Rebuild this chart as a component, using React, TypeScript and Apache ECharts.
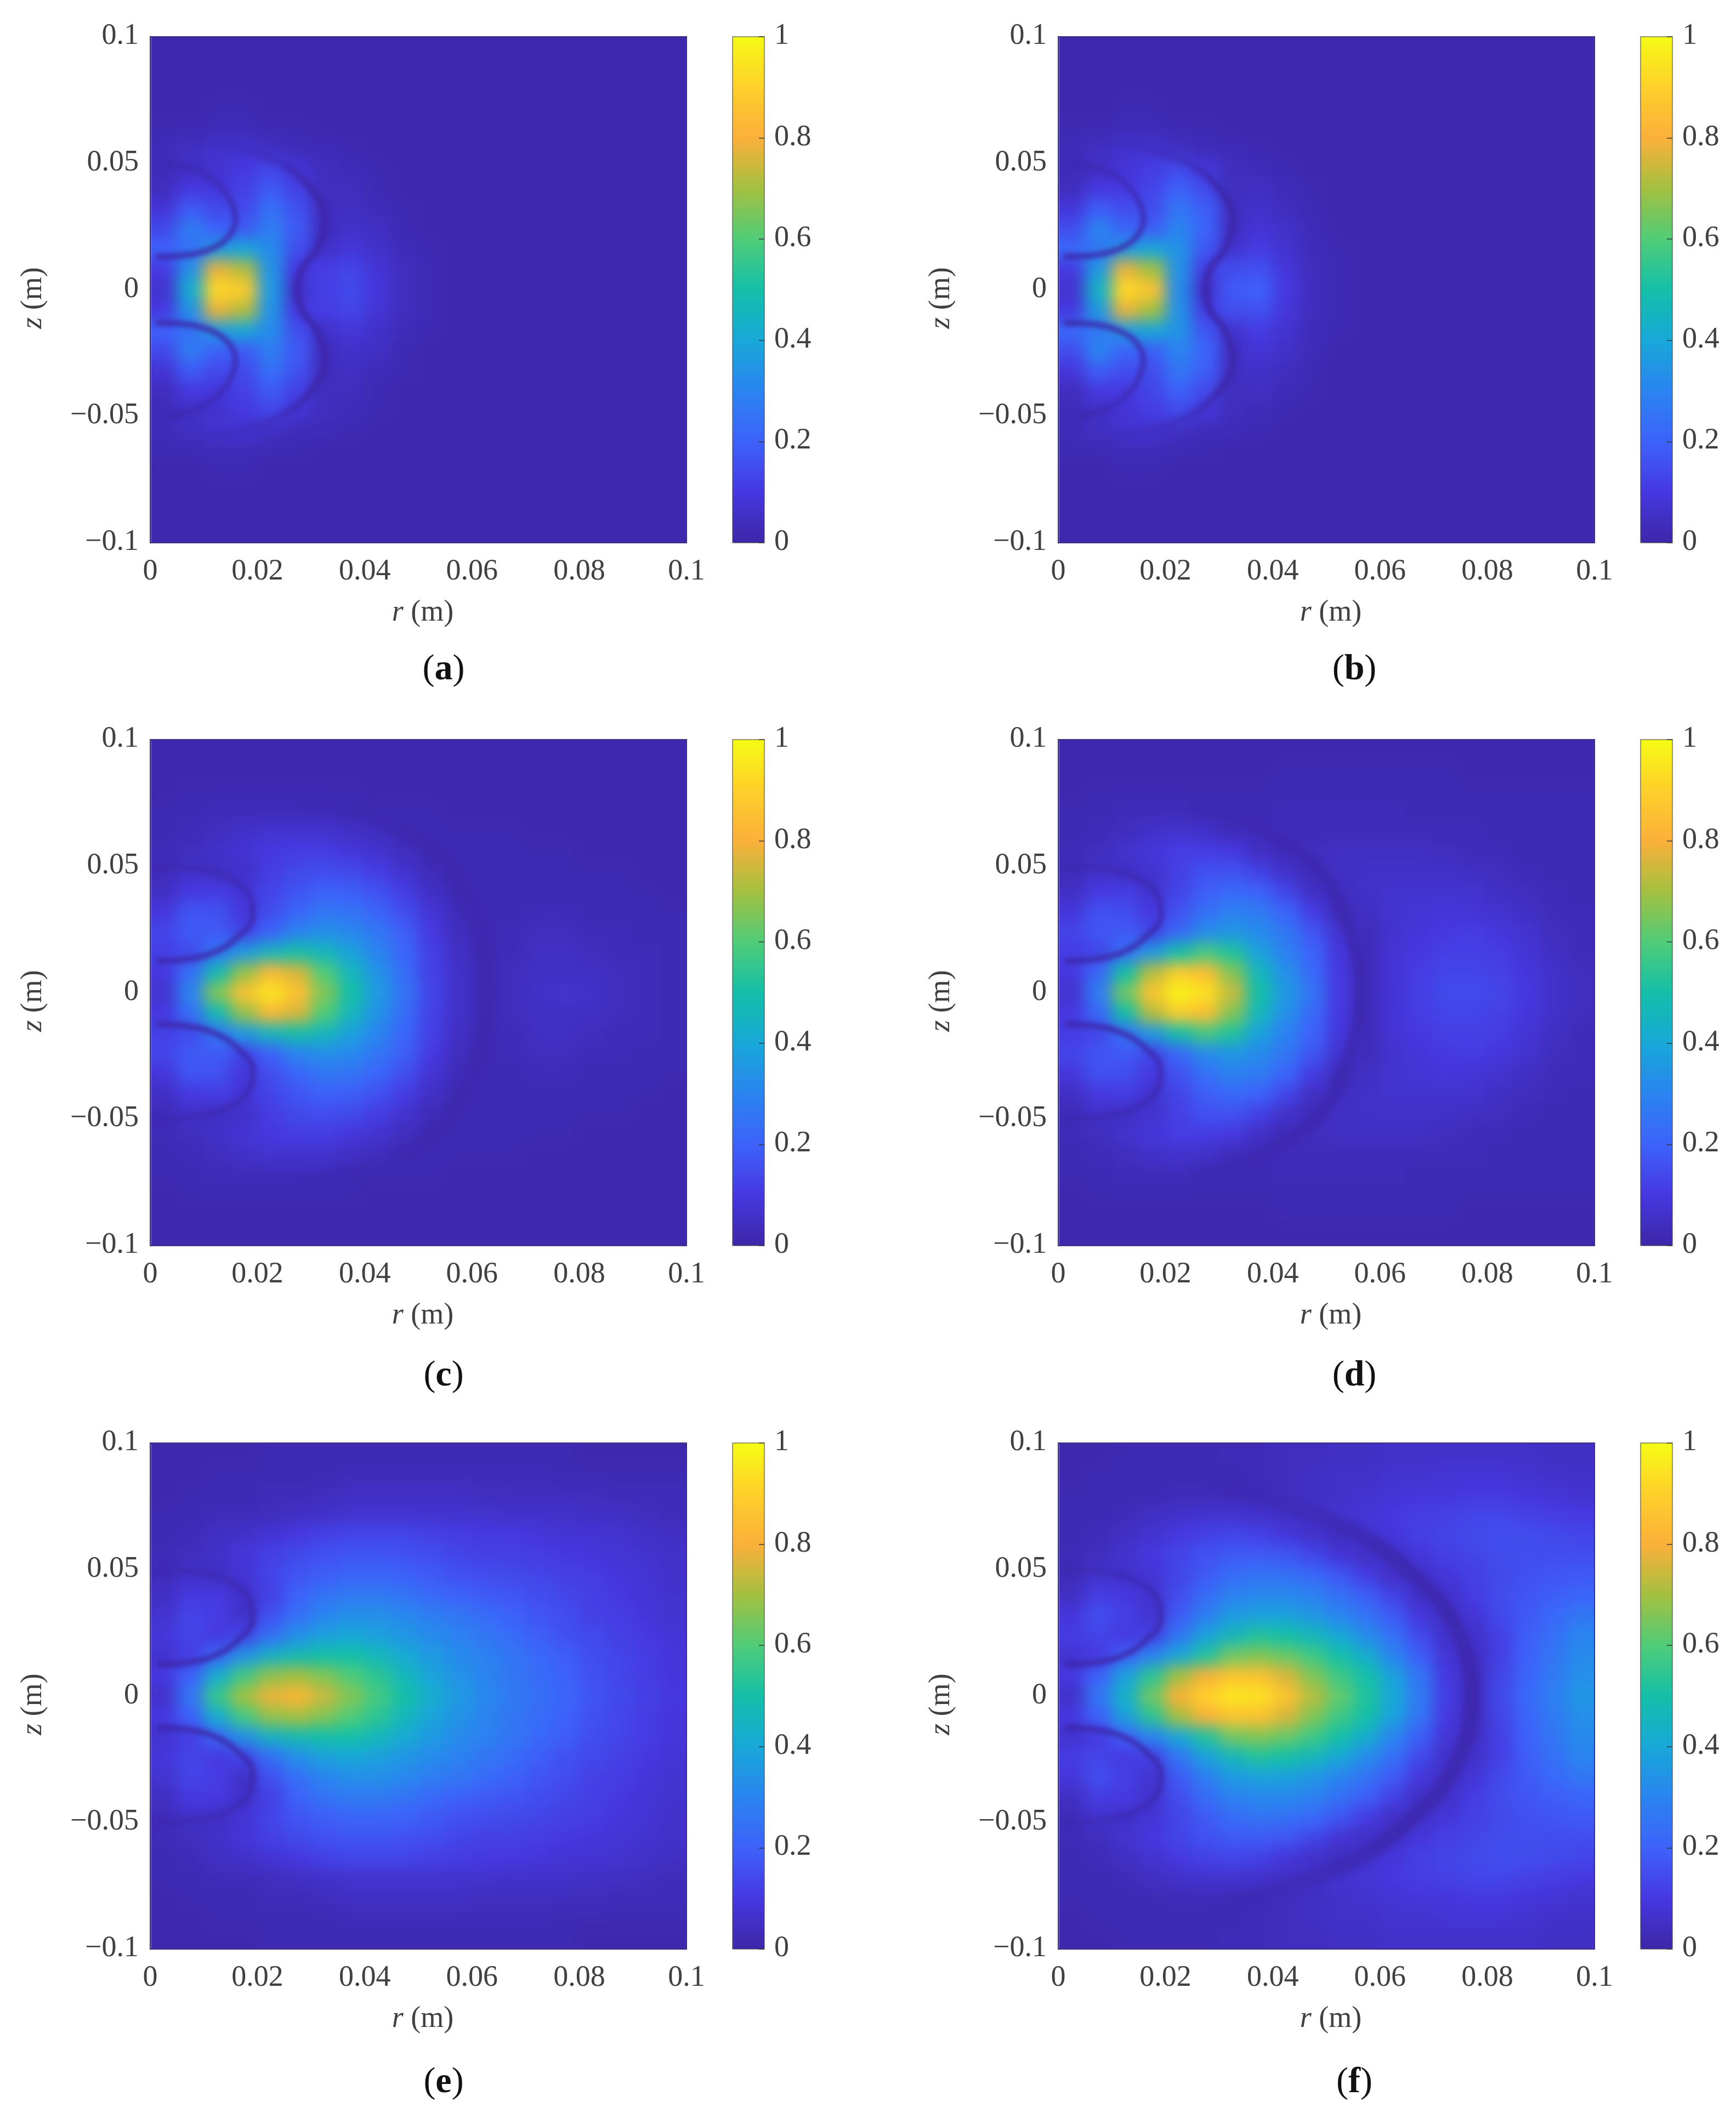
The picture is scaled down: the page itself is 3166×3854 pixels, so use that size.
import React, { useEffect, useRef } from 'react';
import * as echarts from 'echarts';

// columns are r = 2.5, 7.5 ... 97.5 mm, rows are z = 0, 8, 16 ... 96 mm, values in percent (mirrored for z < 0)
const fieldA = [
  [7, 42, 92, 88, 36, 6, 12, 14, 9, 4, 2, 1, 1, 1, 1, 1, 1, 1, 1, 1],
  [10, 34, 78, 72, 34, 10, 11, 13, 8, 4, 2, 1, 1, 1, 1, 1, 1, 1, 1, 1],
  [20, 24, 36, 40, 32, 15, 6, 9, 6, 3, 2, 1, 1, 1, 1, 1, 1, 1, 1, 1],
  [14, 28, 20, 18, 28, 18, 4, 6, 5, 2, 1, 1, 1, 1, 1, 1, 1, 1, 1, 1],
  [8, 18, 14, 14, 24, 16, 4, 5, 3, 2, 1, 1, 1, 1, 1, 1, 1, 1, 1, 1],
  [4, 10, 9, 12, 18, 12, 4, 4, 2, 1, 1, 1, 1, 1, 1, 1, 1, 1, 1, 1],
  [3, 5, 7, 10, 13, 8, 4, 3, 2, 1, 1, 1, 1, 1, 1, 1, 1, 1, 1, 1],
  [3, 5, 7, 7, 5, 3, 3, 2, 1, 1, 1, 1, 1, 1, 1, 1, 1, 1, 1, 1],
  [2, 2, 3, 3, 2, 2, 1, 1, 1, 1, 1, 1, 1, 1, 1, 1, 1, 1, 1, 1],
  [1, 1, 2, 2, 1, 1, 1, 1, 1, 1, 1, 1, 1, 1, 1, 1, 1, 1, 1, 1],
  [1, 1, 1, 1, 1, 1, 1, 1, 1, 1, 1, 1, 1, 1, 1, 1, 1, 1, 1, 1],
  [1, 1, 1, 1, 1, 1, 1, 1, 1, 1, 1, 1, 1, 1, 1, 1, 1, 1, 1, 1],
  [1, 1, 1, 1, 1, 1, 1, 1, 1, 1, 1, 1, 1, 1, 1, 1, 1, 1, 1, 1],
];
const fieldB = [
  [7, 44, 92, 86, 32, 6, 18, 20, 10, 4, 2, 1, 1, 1, 1, 1, 1, 1, 1, 1],
  [10, 36, 78, 70, 34, 11, 15, 16, 9, 4, 2, 1, 1, 1, 1, 1, 1, 1, 1, 1],
  [22, 26, 36, 40, 34, 17, 7, 11, 7, 3, 2, 1, 1, 1, 1, 1, 1, 1, 1, 1],
  [15, 30, 21, 19, 30, 21, 5, 8, 6, 3, 1, 1, 1, 1, 1, 1, 1, 1, 1, 1],
  [9, 19, 15, 15, 26, 19, 5, 6, 4, 2, 1, 1, 1, 1, 1, 1, 1, 1, 1, 1],
  [4, 10, 10, 13, 20, 14, 4, 5, 3, 2, 1, 1, 1, 1, 1, 1, 1, 1, 1, 1],
  [3, 5, 8, 11, 14, 9, 4, 3, 2, 1, 1, 1, 1, 1, 1, 1, 1, 1, 1, 1],
  [3, 5, 7, 7, 5, 3, 3, 2, 1, 1, 1, 1, 1, 1, 1, 1, 1, 1, 1, 1],
  [2, 2, 3, 3, 2, 2, 1, 1, 1, 1, 1, 1, 1, 1, 1, 1, 1, 1, 1, 1],
  [1, 1, 2, 2, 1, 1, 1, 1, 1, 1, 1, 1, 1, 1, 1, 1, 1, 1, 1, 1],
  [1, 1, 1, 1, 1, 1, 1, 1, 1, 1, 1, 1, 1, 1, 1, 1, 1, 1, 1, 1],
  [1, 1, 1, 1, 1, 1, 1, 1, 1, 1, 1, 1, 1, 1, 1, 1, 1, 1, 1, 1],
  [1, 1, 1, 1, 1, 1, 1, 1, 1, 1, 1, 1, 1, 1, 1, 1, 1, 1, 1, 1],
];
const fieldC = [
  [7, 30, 66, 85, 95, 85, 66, 50, 36, 25, 13, 6, 2, 4, 6, 7, 6, 4, 3, 2],
  [10, 24, 48, 68, 82, 76, 60, 46, 34, 23, 12, 6, 2, 4, 5, 5, 5, 4, 3, 2],
  [12, 14, 26, 36, 46, 50, 46, 38, 30, 21, 12, 5, 2, 3, 5, 5, 4, 3, 3, 2],
  [13, 18, 18, 13, 20, 30, 33, 31, 26, 19, 10, 4, 2, 3, 4, 4, 3, 3, 2, 2],
  [9, 17, 16, 9, 15, 21, 26, 25, 21, 15, 8, 3, 2, 2, 3, 3, 2, 2, 2, 2],
  [5, 10, 11, 8, 13, 17, 20, 19, 16, 11, 5, 2, 2, 2, 2, 2, 2, 2, 2, 1],
  [3, 6, 5, 6, 11, 14, 15, 14, 11, 7, 3, 2, 2, 2, 2, 2, 2, 2, 1, 1],
  [3, 4, 6, 8, 10, 11, 11, 9, 7, 4, 2, 2, 2, 2, 2, 2, 1, 1, 1, 1],
  [2, 3, 4, 6, 7, 7, 7, 5, 4, 2, 2, 2, 2, 2, 1, 1, 1, 1, 1, 1],
  [2, 2, 3, 3, 3, 3, 3, 2, 2, 2, 2, 1, 1, 1, 1, 1, 1, 1, 1, 1],
  [1, 2, 2, 2, 2, 2, 2, 2, 1, 1, 1, 1, 1, 1, 1, 1, 1, 1, 1, 1],
  [1, 1, 1, 1, 1, 1, 1, 1, 1, 1, 1, 1, 1, 1, 1, 1, 1, 1, 1, 1],
  [1, 1, 1, 1, 1, 1, 1, 1, 1, 1, 1, 1, 1, 1, 1, 1, 1, 1, 1, 1],
];
const fieldD = [
  [7, 28, 64, 86, 98, 94, 74, 50, 36, 25, 10, 3, 8, 12, 14, 14, 13, 10, 6, 4],
  [10, 22, 50, 72, 88, 84, 66, 46, 33, 22, 10, 3, 8, 11, 13, 13, 12, 9, 6, 4],
  [11, 13, 24, 36, 50, 58, 52, 38, 29, 20, 9, 3, 8, 10, 12, 12, 11, 8, 5, 3],
  [13, 17, 18, 13, 22, 32, 35, 32, 26, 17, 7, 3, 7, 9, 10, 11, 9, 7, 4, 3],
  [9, 16, 15, 10, 16, 24, 29, 27, 21, 11, 3, 5, 7, 8, 9, 8, 7, 5, 3, 3],
  [5, 10, 11, 7, 13, 19, 22, 20, 13, 5, 4, 6, 7, 7, 7, 7, 5, 4, 3, 2],
  [3, 6, 5, 7, 12, 16, 16, 12, 6, 3, 5, 6, 6, 6, 6, 5, 4, 3, 2, 2],
  [3, 4, 7, 9, 11, 11, 10, 5, 3, 4, 5, 5, 5, 5, 4, 3, 3, 2, 2, 2],
  [2, 3, 4, 6, 7, 6, 3, 3, 3, 3, 3, 3, 3, 3, 3, 3, 2, 2, 2, 2],
  [2, 2, 3, 3, 3, 2, 2, 2, 3, 3, 3, 3, 3, 2, 2, 2, 2, 2, 2, 2],
  [1, 2, 2, 2, 2, 2, 2, 2, 2, 2, 2, 2, 2, 2, 2, 2, 2, 2, 2, 2],
  [1, 1, 1, 1, 1, 1, 1, 1, 2, 2, 2, 2, 2, 2, 2, 1, 1, 1, 1, 1],
  [1, 1, 1, 1, 1, 1, 1, 1, 1, 1, 1, 1, 1, 1, 1, 1, 1, 1, 1, 1],
];
const fieldE = [
  [6, 26, 56, 70, 78, 82, 74, 66, 58, 50, 42, 36, 31, 27, 24, 21, 17, 14, 12, 10],
  [10, 20, 42, 58, 68, 70, 66, 60, 54, 46, 39, 34, 30, 26, 23, 20, 16, 13, 11, 9],
  [7, 11, 22, 34, 44, 48, 50, 50, 46, 41, 36, 32, 29, 26, 22, 19, 15, 13, 11, 9],
  [9, 13, 10, 13, 24, 33, 38, 40, 38, 35, 32, 29, 26, 23, 19, 16, 14, 12, 10, 8],
  [7, 13, 11, 6, 16, 24, 30, 33, 33, 31, 28, 26, 23, 20, 17, 15, 12, 11, 9, 7],
  [5, 10, 10, 6, 12, 20, 25, 27, 27, 25, 22, 20, 18, 17, 15, 13, 12, 10, 8, 7],
  [3, 6, 5, 8, 13, 17, 19, 21, 21, 20, 18, 16, 15, 14, 13, 12, 11, 9, 8, 6],
  [3, 4, 6, 9, 12, 14, 16, 17, 17, 16, 15, 13, 12, 12, 11, 10, 9, 8, 7, 6],
  [2, 3, 5, 6, 8, 10, 12, 13, 13, 13, 12, 11, 10, 10, 9, 8, 8, 7, 6, 5],
  [2, 2, 3, 3, 4, 5, 6, 7, 7, 7, 7, 7, 7, 6, 6, 6, 5, 5, 4, 3],
  [1, 2, 2, 2, 3, 3, 4, 5, 5, 5, 5, 5, 4, 4, 4, 4, 4, 3, 3, 3],
  [1, 1, 2, 2, 2, 2, 2, 3, 3, 3, 3, 3, 3, 3, 3, 2, 2, 2, 2, 2],
  [1, 1, 1, 1, 2, 2, 2, 2, 2, 2, 2, 2, 2, 2, 2, 2, 1, 1, 1, 1],
];
const fieldF = [
  [6, 26, 44, 64, 80, 90, 95, 94, 86, 72, 62, 52, 40, 27, 11, 4, 14, 22, 29, 35],
  [10, 20, 38, 54, 70, 80, 86, 85, 76, 66, 57, 50, 38, 25, 10, 4, 13, 21, 27, 33],
  [7, 10, 20, 30, 40, 52, 64, 66, 63, 57, 50, 42, 30, 19, 8, 5, 12, 20, 26, 32],
  [11, 13, 10, 12, 26, 38, 46, 52, 50, 46, 40, 32, 24, 14, 6, 6, 12, 19, 24, 30],
  [9, 15, 12, 7, 18, 28, 36, 38, 38, 35, 30, 25, 18, 9, 5, 8, 14, 18, 22, 26],
  [5, 11, 10, 7, 15, 23, 29, 31, 31, 29, 24, 19, 12, 5, 6, 11, 15, 17, 19, 21],
  [3, 7, 6, 8, 13, 18, 23, 25, 24, 22, 17, 11, 5, 6, 9, 12, 14, 16, 17, 18],
  [3, 4, 7, 10, 13, 16, 18, 18, 17, 13, 8, 5, 6, 9, 12, 13, 15, 15, 15, 15],
  [2, 3, 5, 7, 10, 12, 13, 12, 9, 6, 4, 7, 9, 12, 13, 14, 15, 15, 14, 13],
  [2, 2, 3, 5, 6, 7, 7, 6, 5, 5, 7, 8, 10, 11, 12, 13, 13, 12, 11, 10],
  [2, 2, 2, 2, 3, 3, 3, 3, 4, 5, 6, 7, 8, 9, 9, 10, 10, 9, 8, 7],
  [1, 2, 2, 2, 2, 2, 2, 3, 4, 5, 6, 6, 7, 7, 8, 8, 8, 7, 6, 6],
  [1, 1, 2, 2, 2, 2, 3, 3, 4, 4, 5, 5, 6, 6, 6, 6, 6, 6, 5, 5],
];

// dark nodal curves, [r, z] in metres, upper half only
const lobeSmall = [[0.001, 0.0131], [0.0054, 0.0134], [0.0098, 0.015], [0.0129, 0.0179], [0.0149, 0.0219], [0.0159, 0.0276], [0.0152, 0.0341], [0.0132, 0.0406], [0.0101, 0.0456], [0.0064, 0.0488], [0.0027, 0.0503]];
const lobeLarge = [[0.0012, 0.0125], [0.0064, 0.0131], [0.0116, 0.0157], [0.0161, 0.0216], [0.0191, 0.0306], [0.0181, 0.0397], [0.0142, 0.0456], [0.0096, 0.0486], [0.0051, 0.0497], [0.001, 0.05]];
const outerAB = [[0.0275, 0], [0.0285, 0.0089], [0.0309, 0.0154], [0.0326, 0.0276], [0.0319, 0.0341], [0.0292, 0.042], [0.0251, 0.0492], [0.0203, 0.0535], [0.0156, 0.0564], [0.0085, 0.0585]];
const outerC = [[0.0627, 0], [0.0617, 0.0216], [0.0584, 0.0397], [0.0539, 0.054], [0.0467, 0.0644], [0.0389, 0.0716], [0.0278, 0.0761]];
const outerD = [[0.0563, 0], [0.055, 0.019], [0.0511, 0.041], [0.0459, 0.054], [0.04, 0.0618], [0.0342, 0.0683], [0.025, 0.0735]];
const outerF = [[0.0771, 0], [0.0758, 0.0182], [0.0719, 0.0351], [0.0667, 0.0468], [0.0595, 0.0597], [0.053, 0.0675], [0.0459, 0.0734], [0.0381, 0.0786], [0.0283, 0.0831]];

const colorStops = ['#3d26a8', '#4638e0', '#3d62fa', '#2a84f0', '#18a8d8', '#14bfa8', '#50cc78', '#a4c040', '#fbb03a', '#ffd02a', '#f5fb15'];

const panels = [
  { label: 'a', col: 0, row: 0, field: fieldA, lobe: lobeSmall, outer: outerAB, outerWidth: 14, outerOpacity: 0.8 },
  { label: 'b', col: 1, row: 0, field: fieldB, lobe: lobeSmall, outer: outerAB, outerWidth: 14, outerOpacity: 0.8 },
  { label: 'c', col: 0, row: 1, field: fieldC, lobe: lobeLarge, outer: outerC, outerWidth: 30, outerOpacity: 0.35 },
  { label: 'd', col: 1, row: 1, field: fieldD, lobe: lobeLarge, outer: outerD, outerWidth: 22, outerOpacity: 0.55 },
  { label: 'e', col: 0, row: 2, field: fieldE, lobe: lobeLarge, outer: [], outerWidth: 0, outerOpacity: 0 },
  { label: 'f', col: 1, row: 2, field: fieldF, lobe: lobeLarge, outer: outerF, outerWidth: 28, outerOpacity: 0.65 },
];

const plotLeft = [274, 1930];
const plotTop = [67, 1349, 2632];
const captionY = [1216, 2504, 3793];
const plotW = 978;
const plotH = 923;
const barOffset = 1062;
const barW = 58;
const fontFamily = 'Liberation Serif';
const textColor = '#404040';
const fontSize = 54;

const EChart = ({ option, style }: { option: any; style: React.CSSProperties }) => {
  const ref = useRef<HTMLDivElement>(null);
  useEffect(() => {
    const chart = echarts.init(ref.current as HTMLDivElement, null, { renderer: 'svg' });
    chart.setOption(option);
    return () => {
      chart.dispose();
    };
  }, [option]);
  return <div ref={ref} style={style} />;
};

const fieldOption = (field: number[][]) => {
  const rows = [...field.slice(1).reverse(), ...field];
  const data: number[][] = [];
  // one clamped cell all round, so the blur has no edge inside the plot
  for (let j = -1; j <= rows.length; j++) {
    for (let i = -1; i <= rows[0].length; i++) {
      const row = rows[Math.min(Math.max(j, 0), rows.length - 1)];
      data.push([i + 1, j + 1, row[Math.min(Math.max(i, 0), row.length - 1)] / 100]);
    }
  }
  return {
    animation: false,
    grid: { left: 0, right: 0, top: 0, bottom: 0 },
    xAxis: { type: 'category', show: false, data: Array.from({ length: rows[0].length + 2 }, (_, i) => i) },
    yAxis: { type: 'category', show: false, data: Array.from({ length: rows.length + 2 }, (_, i) => i) },
    visualMap: { show: false, min: 0, max: 1, dimension: 2, inRange: { color: colorStops } },
    series: [{ type: 'heatmap', data, itemStyle: { borderWidth: 0 }, emphasis: { disabled: true } }],
  };
};

const mirror = (curve: number[][]) => curve.map(([r, z]) => [r, -z]);

const shade = (a: number) => 'rgba(61,38,168,' + a + ')';

// stroke that fades along the height of the curve
const fade = (stops: number[][]) =>
  new echarts.graphic.LinearGradient(0, 0, 0, 1, stops.map(([offset, a]) => ({ offset, color: shade(a) })));

const curveOption = (p: (typeof panels)[number]) => {
  const line = (data: number[][], width: number, color: any) => ({
    type: 'line',
    data,
    smooth: 0.4,
    showSymbol: false,
    silent: true,
    lineStyle: { color, width },
  });
  const o = p.outerOpacity;
  return {
    animation: false,
    grid: { left: 0, right: 0, top: 0, bottom: 0 },
    xAxis: { type: 'value', show: false, min: 0, max: 0.1 },
    yAxis: { type: 'value', show: false, min: -0.1, max: 0.1 },
    series: [
      line(p.lobe, 10, fade([[0, 0.5], [0.5, 0.8], [1, 0.9]])),
      line(mirror(p.lobe), 10, fade([[0, 0.9], [0.5, 0.8], [1, 0.5]])),
      line(
        [...mirror(p.outer).reverse(), ...p.outer.slice(1)],
        p.outerWidth,
        fade([[0, 0.15], [0.15, o], [0.85, o], [1, 0.15]])
      ),
    ],
  };
};

const tickLabel = { color: textColor, fontFamily, fontSize };
// pushes a label up a little from its tick, as in the picture
const liftedLabel = { t: { ...tickLabel, padding: [0, 0, 10, 0] } };

const mainOption = () => {
  const grid: any[] = [];
  const xAxis: any[] = [];
  const yAxis: any[] = [];
  const visualMap: any[] = [];
  const graphic: any[] = [];
  panels.forEach((p, k) => {
    const left = plotLeft[p.col];
    const top = plotTop[p.row];
    grid.push({ left, top, width: plotW, height: plotH, show: true, borderWidth: 2, borderColor: '#3a3280', z: 1 });
    xAxis.push({
      gridIndex: 2 * k,
      type: 'value',
      min: 0,
      max: 0.1,
      interval: 0.02,
      splitLine: { show: false },
      axisTick: { show: false },
      axisLine: { show: false, onZero: false },
      axisLabel: { ...tickLabel, margin: 22, formatter: (v: number) => String(+v.toFixed(2)) },
      name: '{i|r} (m)',
      nameLocation: 'middle',
      nameGap: 97,
      nameTextStyle: {
        ...tickLabel,
        padding: [0, 0, 0, 16],
        rich: { i: { ...tickLabel, fontStyle: 'italic' } },
      },
    });
    yAxis.push({
      gridIndex: 2 * k,
      type: 'value',
      min: -0.1,
      max: 0.1,
      interval: 0.05,
      splitLine: { show: false },
      axisTick: { show: false },
      axisLine: { show: true, onZero: false, lineStyle: { color: '#85858f', width: 3 } },
      axisLabel: {
        ...tickLabel,
        margin: 21,
        rich: liftedLabel,
        formatter: (v: number) => {
          const s = String(+Math.abs(v).toFixed(2));
          return '{t|' + (v < -1e-9 ? '\u2212' + s : s) + '}';
        },
      },
      name: '{i|z} (m)',
      nameLocation: 'middle',
      nameGap: 190,
      nameTextStyle: { ...tickLabel, padding: [0, 30, 0, 0], rich: { i: { ...tickLabel, fontStyle: 'italic' } } },
    });

    const barLeft = left + barOffset;
    grid.push({ left: barLeft, top, width: barW, height: plotH, show: true, borderWidth: 2, borderColor: 'rgba(70,70,70,0.55)', z: 1 });
    xAxis.push({ gridIndex: 2 * k + 1, type: 'value', show: false, min: 0, max: 1 });
    yAxis.push({
      gridIndex: 2 * k + 1,
      type: 'value',
      position: 'right',
      min: 0,
      max: 1,
      interval: 0.2,
      z: 3,
      splitLine: { show: false },
      axisLine: { show: false, onZero: false },
      axisTick: { show: true, inside: true, length: 10, lineStyle: { color: 'rgba(50,50,50,0.7)', width: 2 } },
      axisLabel: {
        ...tickLabel,
        margin: 18,
        rich: liftedLabel,
        formatter: (v: number) => '{t|' + String(+v.toFixed(1)) + '}',
      },
    });
    visualMap.push({
      type: 'continuous',
      show: true,
      seriesIndex: [],
      hoverLink: false,
      calculable: false,
      min: 0,
      max: 1,
      left: barLeft,
      top,
      padding: 0,
      itemWidth: barW,
      itemHeight: plotH,
      text: ['', ''],
      showLabel: false,
      z: 0,
      inRange: { color: colorStops },
    });
    graphic.push({
      type: 'text',
      x: left + (p.col === 0 ? 535 : 540),
      y: captionY[p.row],
      style: {
        text: '{n|(}{b|' + p.label + '}{n|)}',
        align: 'center',
        verticalAlign: 'middle',
        rich: {
          n: { fontFamily, fontSize: 66, fill: '#111', fontWeight: 'normal' },
          b: { fontFamily, fontSize: 66, fill: '#111', fontWeight: 'bold' },
        },
      },
    });
  });
  return { animation: false, grid, xAxis, yAxis, visualMap, graphic };
};

const App = () => {
  return (
    <div style={{ position: 'absolute', left: 0, top: 0, width: 3166, height: 3854, overflow: 'hidden', background: '#fff' }}>
      {panels.map((p) => (
        <div
          key={p.label}
          style={{
            position: 'absolute',
            left: plotLeft[p.col],
            top: plotTop[p.row],
            width: plotW,
            height: plotH,
            overflow: 'hidden',
            background: colorStops[0],
          }}
        >
          <EChart
            option={fieldOption(p.field)}
            style={{
              position: 'absolute',
              left: -plotW / 20,
              top: -plotH / 25,
              width: plotW + plotW / 10,
              height: plotH + (2 * plotH) / 25,
              filter: 'blur(14px)',
            }}
          />
          <EChart
            option={curveOption(p)}
            style={{ position: 'absolute', left: 0, top: 0, width: plotW, height: plotH, filter: 'blur(5px)' }}
          />
        </div>
      ))}
      <EChart option={mainOption()} style={{ position: 'absolute', left: 0, top: 0, width: 3166, height: 3854 }} />
    </div>
  );
};

export default App;
